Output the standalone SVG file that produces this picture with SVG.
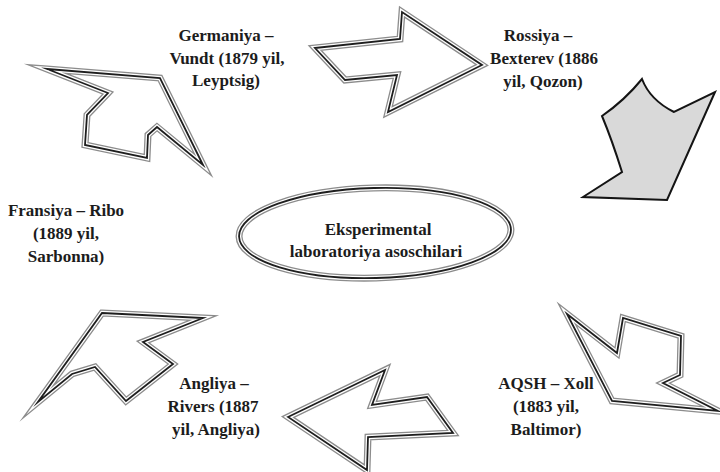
<svg xmlns="http://www.w3.org/2000/svg" xmlns:xlink="http://www.w3.org/1999/xlink" width="720" height="472" viewBox="0 0 720 472">
<style>
.lbl { font-family: "Liberation Serif", "Times New Roman", serif; font-size: 17px; font-weight: bold; fill: #1c1c1c; text-anchor: middle; }
.a1 { fill: #fff; stroke: #8c8c8c; stroke-width: 7; stroke-linejoin: miter; stroke-miterlimit: 10; }
.a2 { fill: none; stroke: #fff; stroke-width: 4.4; stroke-linejoin: miter; stroke-miterlimit: 10; }
.a3 { fill: none; stroke: #1e1e1e; stroke-width: 1.8; stroke-linejoin: miter; stroke-miterlimit: 10; }
.solid { fill: #d9d9d9; stroke: #141414; stroke-width: 2; stroke-linejoin: miter; }
</style>
<defs>
<polygon id="arTL" points="47,69 160,78 203,165 157,127 148,135 147,158 85,145 87,115 108,93"/>
<polygon id="arTR" points="315,48 400,39 402,12 482,65 388,112 397,75 345,80"/>
<polygon id="arBR" points="567,314 617,353 623,318 681,336 680,375 663,383 718,411 612,401"/>
<polygon id="arBC" points="288,417 385,370 372,405 427,397 453,433 368,437 367,470"/>
<polygon id="arBL" points="102,313 203,318 143,342 173,364 126,401 95,367 72,374 38,402"/>
<ellipse id="ell" cx="375" cy="233" rx="136" ry="45"/>
</defs>
<rect width="720" height="472" fill="#fff"/>
<g id="connectors">
<g id="arrow-fransiya-germaniya"><use xlink:href="#arTL" class="a1"/><use xlink:href="#arTL" class="a2"/><use xlink:href="#arTL" class="a3"/></g>
<g id="arrow-germaniya-rossiya"><use xlink:href="#arTR" class="a1"/><use xlink:href="#arTR" class="a2"/><use xlink:href="#arTR" class="a3"/></g>
<g id="arrow-rossiya-aqsh"><path class="solid" d="M642,79 Q650,100 674,112 L715,92 L667,200 L583,197 L622,172 Q612,140 602,116 Q625,100 642,79 Z"/></g>
<g id="arrow-aqsh-angliya-right"><use xlink:href="#arBR" class="a1"/><use xlink:href="#arBR" class="a2"/><use xlink:href="#arBR" class="a3"/></g>
<g id="arrow-aqsh-angliya"><use xlink:href="#arBC" class="a1"/><use xlink:href="#arBC" class="a2"/><use xlink:href="#arBC" class="a3"/></g>
<g id="arrow-angliya-fransiya"><use xlink:href="#arBL" class="a1"/><use xlink:href="#arBL" class="a2"/><use xlink:href="#arBL" class="a3"/></g>
</g>
<g id="center">
<g transform="rotate(-1.5 375 233)"><use xlink:href="#ell" class="a1"/><use xlink:href="#ell" class="a2"/><use xlink:href="#ell" class="a3"/></g>
<text class="lbl" x="378" y="235">Eksperimental</text>
<text class="lbl" x="376" y="257">laboratoriya asoschilari</text>
</g>
<g id="germaniya">
<text class="lbl" x="226" y="41">Germaniya –</text>
<text class="lbl" x="227" y="64">Vundt (1879 yil,</text>
<text class="lbl" x="226" y="86">Leyptsig)</text>
</g>
<g id="rossiya">
<text class="lbl" x="538" y="41">Rossiya –</text>
<text class="lbl" x="544" y="64">Bexterev (1886</text>
<text class="lbl" x="543" y="87">yil, Qozon)</text>
</g>
<g id="fransiya">
<text class="lbl" x="66" y="216">Fransiya – Ribo</text>
<text class="lbl" x="66" y="239">(1889 yil,</text>
<text class="lbl" x="66" y="262">Sarbonna)</text>
</g>
<g id="angliya">
<text class="lbl" x="214" y="389">Angliya –</text>
<text class="lbl" x="213" y="412">Rivers (1887</text>
<text class="lbl" x="216" y="435">yil, Angliya)</text>
</g>
<g id="aqsh">
<text class="lbl" x="546" y="389">AQSH – Xoll</text>
<text class="lbl" x="546" y="412">(1883 yil,</text>
<text class="lbl" x="546" y="435">Baltimor)</text>
</g>
</svg>
